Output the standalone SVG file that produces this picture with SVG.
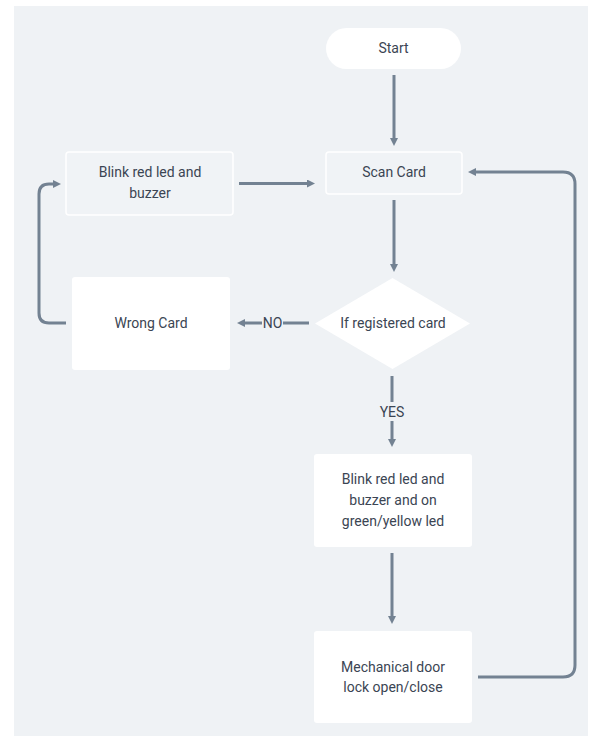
<svg xmlns="http://www.w3.org/2000/svg" width="600" height="740" viewBox="0 0 600 740">
<style>
.t{font-family:Roboto,"Liberation Sans",sans-serif;font-size:14px;fill:#3b4553;text-anchor:middle}
.box{fill:#ffffff}
.obox{fill:#f0f3f6;stroke:#ffffff;stroke-width:1.5}
.c{fill:none;stroke:#738292;stroke-width:3}
</style>
<defs>
<marker id="ah" viewBox="0 0 8 8" markerWidth="8" markerHeight="8" markerUnits="userSpaceOnUse" refX="1" refY="4" orient="auto">
<path d="M0,0 L8,4 L0,8 z" fill="#738292"/>
</marker>
</defs>
<rect x="14" y="6" width="574" height="730" fill="#eff2f5"/>
<g id="connectors">
<path class="c" d="M394,75 V139" marker-end="url(#ah)"/>
<path class="c" d="M394,200 V265" marker-end="url(#ah)"/>
<path class="c" d="M309,323 H244" marker-end="url(#ah)"/>
<path class="c" d="M66,323 H49 Q39,323 39,313 V194 Q39,184 49,184 H54" marker-end="url(#ah)"/>
<path class="c" d="M239,183.5 H308" marker-end="url(#ah)"/>
<path class="c" d="M392,376 V440" marker-end="url(#ah)"/>
<path class="c" d="M392,553 V617" marker-end="url(#ah)"/>
<path class="c" d="M478,677 H563 Q575,677 575,665 V184 Q575,172 563,172 H475" marker-end="url(#ah)"/>
<rect x="262" y="315" width="21" height="17" fill="#eff2f5"/>
<text class="t" x="272.5" y="328">NO</text>
<rect x="377" y="402" width="30" height="19" fill="#eff2f5"/>
<text class="t" x="392" y="417">YES</text>
</g>
<g id="start">
<rect class="box" x="326" y="28" width="135" height="41" rx="20.5"/>
<text class="t" x="393.5" y="53">Start</text>
</g>
<g id="scan">
<rect class="obox" x="326" y="152" width="136" height="42" rx="3"/>
<text class="t" x="394" y="177">Scan Card</text>
</g>
<g id="blink1">
<rect class="obox" x="66" y="152" width="167" height="63" rx="3"/>
<text class="t" x="150" y="177">Blink red led and</text>
<text class="t" x="150" y="198">buzzer</text>
</g>
<g id="decision">
<polygon class="box" points="392.5,278 470,323.5 392.5,369 315,323.5"/>
<text class="t" x="393" y="328">If registered card</text>
</g>
<g id="wrong">
<rect class="box" x="72" y="277" width="158" height="93" rx="3"/>
<text class="t" x="151" y="328">Wrong Card</text>
</g>
<g id="blink2">
<rect class="box" x="314" y="454" width="158" height="93" rx="3"/>
<text class="t" x="393" y="484">Blink red led and</text>
<text class="t" x="393" y="505">buzzer and on</text>
<text class="t" x="393" y="526">green/yellow led</text>
</g>
<g id="mech">
<rect class="box" x="314" y="631" width="158" height="92" rx="3"/>
<text class="t" x="393" y="671.5">Mechanical door</text>
<text class="t" x="393" y="692">lock open/close</text>
</g>
</svg>
